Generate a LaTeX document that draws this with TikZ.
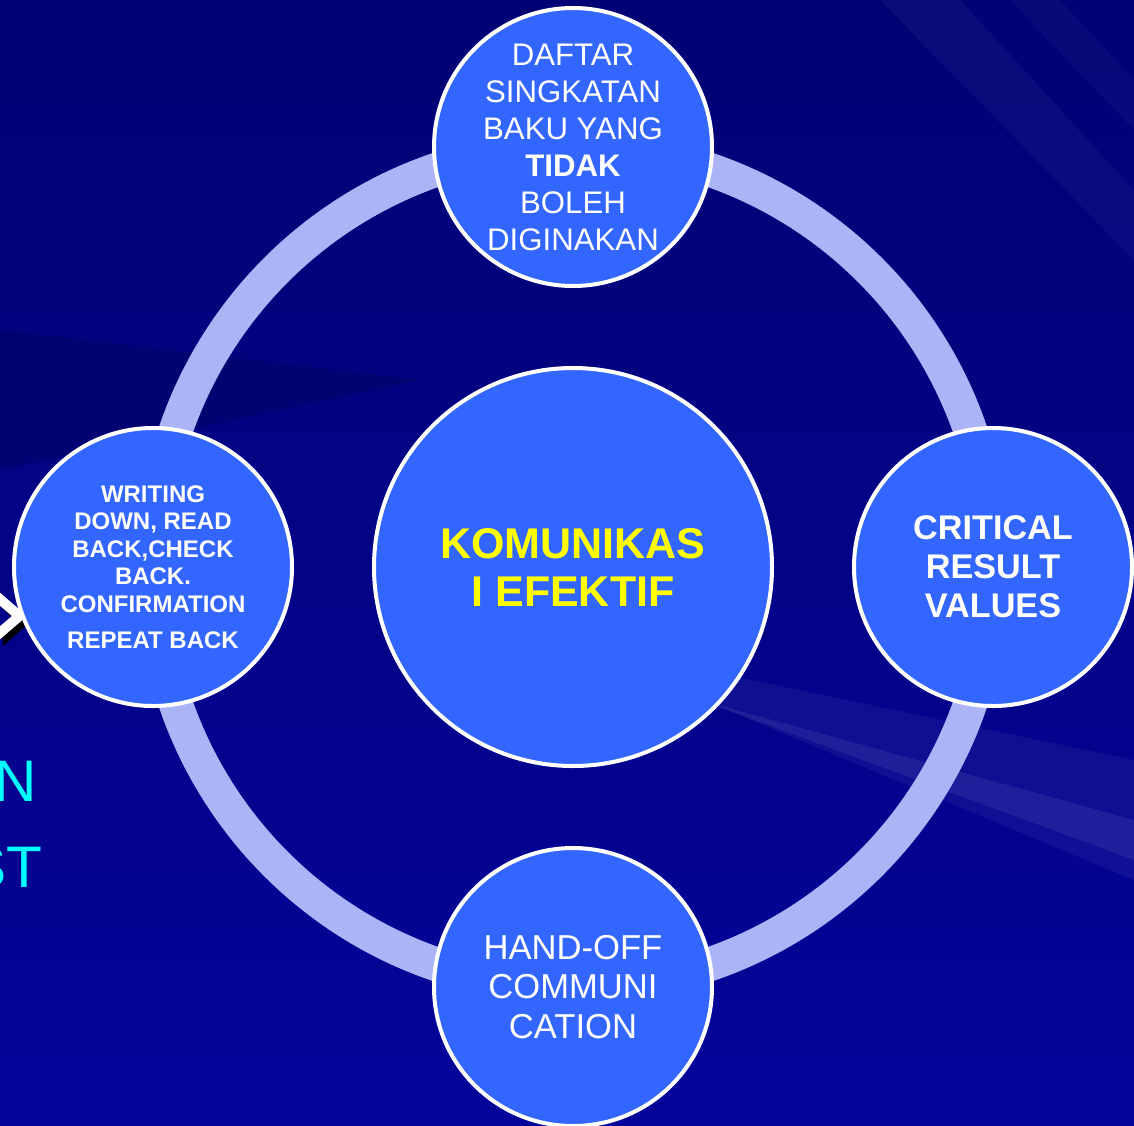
\documentclass[tikz,border=0pt]{standalone}
\usepackage{fontspec}
\setmainfont{Liberation Sans}
\usetikzlibrary{positioning}
\definecolor{slidetop}{HTML}{020274}
\definecolor{slidebottom}{HTML}{04049A}
\definecolor{discblue}{HTML}{3366FF}
\definecolor{ringblue}{HTML}{AAB4F6}
\definecolor{hubyellow}{HTML}{FFFF00}
\definecolor{edgecyan}{HTML}{00FFFF}
\tikzstyle{disc} = [circle, draw=white, line width=2pt, fill=discblue, text=white, align=center, minimum size=139pt, inner sep=0pt]
\tikzstyle{hub} = [disc, minimum size=199pt, text=hubyellow, font=\fontsize{21.5}{24}\selectfont\bfseries]
\tikzstyle{ring} = [draw=ringblue, line width=17pt]
\tikzstyle{edgetext} = [text=edgecyan, font=\fontsize{29.3}{34}\selectfont, inner sep=0pt]

\begin{document}
\begin{tikzpicture}[x=0.5pt, y=-0.5pt, on grid, node distance=210pt]

% Background
\clip (0,0) rectangle (1134,1125);
\shade[top color=slidetop, bottom color=slidebottom] (0,0) rectangle (1134,1125);
\fill[white, opacity=0.05] (560,640) -- (1134,760) -- (1134,880) -- cycle;
\fill[white, opacity=0.07] (700,700) -- (1134,820) -- (1134,860) -- cycle;
\fill[white, opacity=0.04] (880,0) -- (960,0) -- (1134,190) -- (1134,260) -- cycle;
\fill[white, opacity=0.03] (1010,0) -- (1060,0) -- (1134,80) -- (1134,130) -- cycle;
\fill[black, opacity=0.12] (0,330) -- (420,380) -- (0,470) -- cycle;

% Arrow peeking in from the left
\fill[black] (3,596) -- (31,621) -- (3,646) -- (3,633) -- (16,621) -- (3,609) -- cycle;
\fill[white] (-2,591) -- (27,616) -- (-2,641) -- (-2,628) -- (12,616) -- (-2,604) -- cycle;

% Cut-off text on the left
\node (leftN) [edgetext, anchor=base east] at (37.5,801) {N};
\node (leftST) [edgetext, anchor=base east] at (43,887) {ST};

% Nodes
\node (hub) [hub] at (573,567) {KOMUNIKAS\\I EFEKTIF};
\draw [ring] (hub.center) circle (420);

\node (abbrev) [disc, above=of hub, font=\fontsize{15.6}{18.5}\selectfont]
  {DAFTAR\\SINGKATAN\\BAKU YANG\\\textbf{TIDAK}\\BOLEH\\DIGINAKAN};
\node (readback) [disc, left=of hub, font=\fontsize{12}{13.75}\selectfont\bfseries]
  {WRITING\\DOWN, READ\\BACK,CHECK\\BACK.\\CONFIRMATION\\[4.5pt]REPEAT BACK};
\node (critical) [disc, right=of hub, font=\fontsize{17.1}{19.5}\selectfont\bfseries]
  {CRITICAL\\RESULT\\VALUES};
\node (handoff) [disc, below=of hub, font=\fontsize{17.3}{19.75}\selectfont]
  {HAND-OFF\\COMMUNI\\CATION};

\end{tikzpicture}
\end{document}
